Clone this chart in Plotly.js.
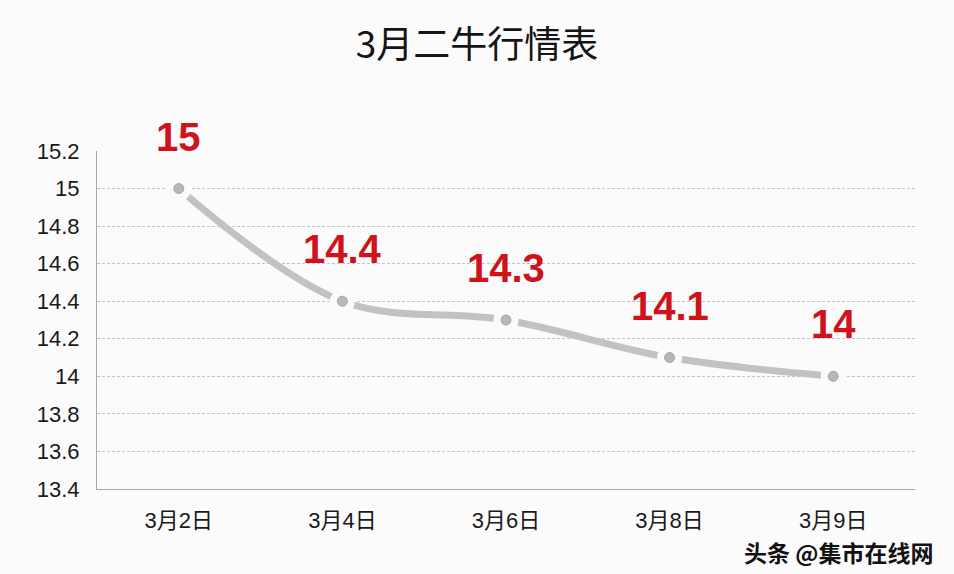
<!DOCTYPE html>
<html>
<head>
<meta charset="utf-8">
<script src="https://cdn.plot.ly/plotly-3.0.1.min.js"></script>
<style>html,body{margin:0;padding:0;background:#fbfbfc;}#chart{width:954px;height:574px;}</style>
</head>
<body>
<div id="chart"></div>
<script>
var categories = ["3月2日", "3月4日", "3月6日", "3月8日", "3月9日"];
var prices = [15, 14.4, 14.3, 14.1, 14];
var labels = ["15", "14.4", "14.3", "14.1", "14"];
var yTicks = [13.4, 13.6, 13.8, 14, 14.2, 14.4, 14.6, 14.8, 15, 15.2];
var chartTitle = "3月二牛行情表";
var watermark = "头条 @集市在线网";

var baseFont = '"Liberation Sans", Arial, "Noto Sans CJK SC", sans-serif';

var traces = [
  {x: categories, y: prices, mode: 'lines', type: 'scatter',
   line: {color: '#c2c2c4', width: 7, shape: 'spline', smoothing: 1},
   hoverinfo: 'skip', showlegend: false},
  {x: categories, y: prices, mode: 'markers', type: 'scatter',
   marker: {color: '#fbfbfc', size: 25, line: {width: 0}},
   hoverinfo: 'skip', showlegend: false},
  {x: categories, y: prices, mode: 'markers', type: 'scatter',
   marker: {color: '#b8b8bb', size: 10, line: {color: '#a5a5a8', width: 1}},
   hoverinfo: 'skip', showlegend: false}
];

var annotations = categories.map(function(c, i) {
  return {x: c, y: prices[i], xref: 'x', yref: 'y', text: labels[i],
    showarrow: false, yshift: 52, yanchor: 'middle', xanchor: 'center',
    font: {family: baseFont, size: 40, color: '#d0121b', weight: 'bold'}};
});
annotations.push({xref: 'paper', yref: 'paper', x: 1.024, y: -0.185, xanchor: 'right', yanchor: 'middle',
  text: watermark, showarrow: false,
  font: {family: '"Noto Sans CJK SC", sans-serif', size: 23, color: '#111', weight: 'bold'}});

var layout = {
  width: 954, height: 574,
  paper_bgcolor: '#fbfbfc', plot_bgcolor: '#fbfbfc',
  margin: {l: 97, r: 39, t: 151, b: 85},
  title: {text: chartTitle, x: 0.5, xref: 'container', xanchor: 'center', y: 0.922, yanchor: 'middle', yref: 'container',
    font: {family: '"Noto Sans CJK SC", sans-serif', size: 37, color: '#151515'}},
  xaxis: {type: 'category', range: [-0.5, 4.5], showgrid: false, zeroline: false,
    showline: true, linecolor: '#a8a8ab', linewidth: 1,
    ticks: 'outside', ticklen: 12, tickcolor: 'rgba(0,0,0,0)',
    tickfont: {family: baseFont, size: 22, color: '#1a1a1a'}, fixedrange: true},
  yaxis: {range: [13.4, 15.2], tickvals: yTicks, ticktext: yTicks.map(String),
    showgrid: true, gridcolor: '#c4c4c8', gridwidth: 1, griddash: '3px,2px',
    zeroline: false, showline: true, linecolor: '#a8a8ab', linewidth: 1,
    ticks: 'outside', ticklen: 12, tickcolor: 'rgba(0,0,0,0)',
    tickfont: {family: baseFont, size: 22, color: '#1a1a1a'}, fixedrange: true},
  annotations: annotations,
  showlegend: false
};

Plotly.newPlot('chart', traces, layout, {displayModeBar: false, staticPlot: true});
</script>
</body>
</html>
